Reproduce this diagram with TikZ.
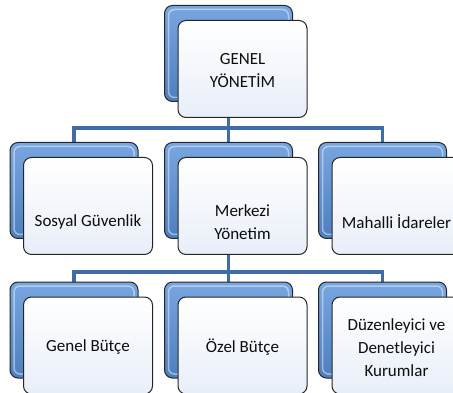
\documentclass[tikz,border=0pt]{standalone}
\usepackage{fontspec}
\setmainfont{Carlito}
\usetikzlibrary{backgrounds,positioning,calc}

\definecolor{cardblue}{HTML}{4E7EBE}
\definecolor{cardlight}{HTML}{78A6E0}
\definecolor{linkblue}{HTML}{3F6CA6}
\definecolor{paper}{HTML}{E8EEF8}

\begin{document}
\begin{tikzpicture}[x=1pt, y=-1pt,
    back/.style={rectangle, draw=black!85, line width=1pt, rounded corners=8pt,
    minimum width=128pt, minimum height=96pt, inner sep=0pt,
    top color=cardlight, bottom color=cardblue,
    path picture={\draw[white, opacity=0.45, line width=1.5pt, rounded corners=6pt]
    ([shift={(4,4)}]path picture bounding box.north west) rectangle
    ([shift={(-4,-4)}]path picture bounding box.south east);}},
    front/.style={rectangle, draw=black!85, line width=1pt, rounded corners=8pt,
    minimum width=129pt, minimum height=97pt, inner sep=0pt,
    top color=white, bottom color=paper},
    cardtext/.style={text=black!95, align=center, font=\fontsize{17}{23}\selectfont},
    link/.style={draw=linkblue, line width=3.5pt}]
    \clip (0,0) rectangle (453,393);

    % top level
    \node (genelBack) [back] at (228.5,53.5) {};
    \node (genelFront) [front] at ([shift={(14,15.5)}]genelBack.center) {};
    \node (genelText) [cardtext] at ([yshift=-2pt]genelFront.center) {GENEL\\YÖNETİM};

    % second row
    \node (sosyalBack) [back] at (74,190.5) {};
    \node (sosyalFront) [front] at ([shift={(14,15.5)}]sosyalBack.center) {};
    \node (sosyalText) [cardtext] at ([yshift=-16pt]sosyalFront.center) {Sosyal Güvenlik};

    \node (merkeziBack) [back] at (228.5,190.5) {};
    \node (merkeziFront) [front] at ([shift={(14,15.5)}]merkeziBack.center) {};
    \node (merkeziText) [cardtext] at ([yshift=-16pt]merkeziFront.center) {Merkezi\\Yönetim};

    \node (mahalliBack) [back] at (382.5,190.5) {};
    \node (mahalliFront) [front] at ([shift={(14,15.5)}]mahalliBack.center) {};
    \node (mahalliText) [cardtext] at ([yshift=-16pt]mahalliFront.center) {Mahalli İdareler};

    % third row
    \node (butceBack) [back] at (74,330) {};
    \node (butceFront) [front] at ([shift={(14,15.5)}]butceBack.center) {};
    \node (butceText) [cardtext] at ([yshift=-2pt]butceFront.center) {Genel Bütçe};

    \node (ozelBack) [back] at (228.5,330) {};
    \node (ozelFront) [front] at ([shift={(14,15.5)}]ozelBack.center) {};
    \node (ozelText) [cardtext] at ([yshift=-2pt]ozelFront.center) {Özel Bütçe};

    \node (kurumBack) [back] at (382.5,330) {};
    \node (kurumFront) [front] at ([shift={(14,15.5)}]kurumBack.center) {};
    \node (kurumText) [cardtext] at ([yshift=-2pt]kurumFront.center) {Düzenleyici ve\\Denetleyici\\Kurumlar};

    \begin{scope}[on background layer]
        \draw[link] (genelBack.south) -- ++(0,26) -| (sosyalBack.north);
        \draw[link] (genelBack.south) -- ++(0,26) -| (merkeziBack.north);
        \draw[link] (genelBack.south) -- ++(0,26) -| (mahalliBack.north);
        \draw[link] (merkeziBack.south) -- ++(0,33) -| (butceBack.north);
        \draw[link] (merkeziBack.south) -- ++(0,33) -| (ozelBack.north);
        \draw[link] (merkeziBack.south) -- ++(0,33) -| (kurumBack.north);
    \end{scope}
\end{tikzpicture}
\end{document}
